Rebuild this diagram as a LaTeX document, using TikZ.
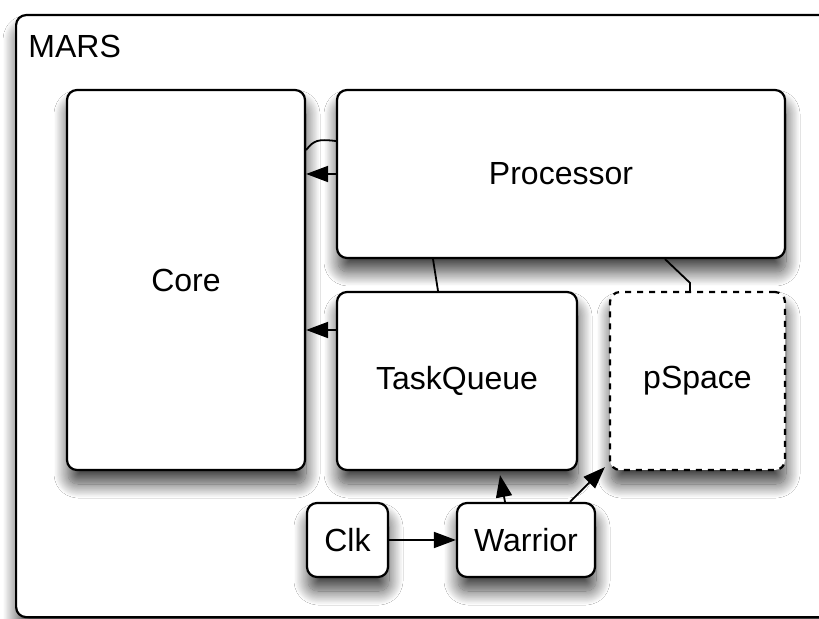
\documentclass[tikz,border=0pt]{standalone}
\usepackage{fontspec}
\setmainfont{Liberation Sans}
\usetikzlibrary{shadows.blur,arrows.meta,calc}
\begin{document}
\begin{tikzpicture}[x=0.5pt,y=-0.5pt,
  box/.style={draw=black, line width=1.1pt, rounded corners=5pt, fill=white,
    blur shadow={shadow xshift=0.5pt, shadow yshift=-7pt, shadow blur radius=7pt, shadow blur steps=25, shadow opacity=75},
    font=\fontsize{16}{19}\selectfont, inner sep=0pt},
  arr/.style={-{Triangle[length=11pt,width=8pt]}, line width=0.9pt},
  link/.style={line width=0.9pt}]
\useasboundingbox (0,0) rectangle (819,619);
\clip (0,0) rectangle (819,619);
\fill[white] (0,0) rectangle (819,619);

% enclosing MARS frame
\node[box, minimum width=420pt, minimum height=301pt, anchor=north west] (mars) at (15,14) {};
\node[anchor=west, font=\fontsize{16}{19}\selectfont, inner sep=0pt] (marslbl) at (28,46) {MARS};

% components
\node[box, minimum width=119pt, minimum height=190pt] (core) at (186,280) {Core};
\node[box, minimum width=224pt, minimum height=84pt] (proc) at (561,174) {Processor};
\node[box, minimum width=120pt, minimum height=89pt] (tq) at (457,381) {TaskQueue};
\node[box, dashed, minimum width=87.5pt, minimum height=89pt] (ps) at (697.5,381) {pSpace};
\node[box, minimum width=40.5pt, minimum height=37pt] (clk) at (347.5,540) {Clk};
\node[box, minimum width=69pt, minimum height=37pt] (war) at (526,540) {Warrior};

% processor <-> core
\draw[link] ([yshift=16.5pt]proc.west) .. controls ([xshift=-9pt,yshift=17.5pt]proc.west) and ([xshift=4pt,yshift=70pt]core.east) .. ([yshift=65pt]core.east);
\draw[arr] (proc.west) -- (proc.west -| core.east);

% task queue -> core
\coordinate (tqa) at ([yshift=25.5pt]tq.west);
\draw[arr] (tqa) -- (tqa -| core.east);

% processor links
\draw[link] ([xshift=-64pt]proc.south) -- ([xshift=-9.5pt]tq.north);
\draw[link] ([xshift=52pt]proc.south) -- ([xshift=-3.75pt,yshift=4pt]ps.north) -- ([xshift=-3.75pt]ps.north);

% clock and warrior
\draw[arr] (clk) -- (war);
\draw[arr] ([xshift=-10.5pt]war.north) -- ([xshift=21.5pt,yshift=-2pt]tq.south);
\draw[arr] ([xshift=22pt]war.north) -- ([xshift=-2pt,yshift=2pt]ps.south west);
\end{tikzpicture}
\end{document}
